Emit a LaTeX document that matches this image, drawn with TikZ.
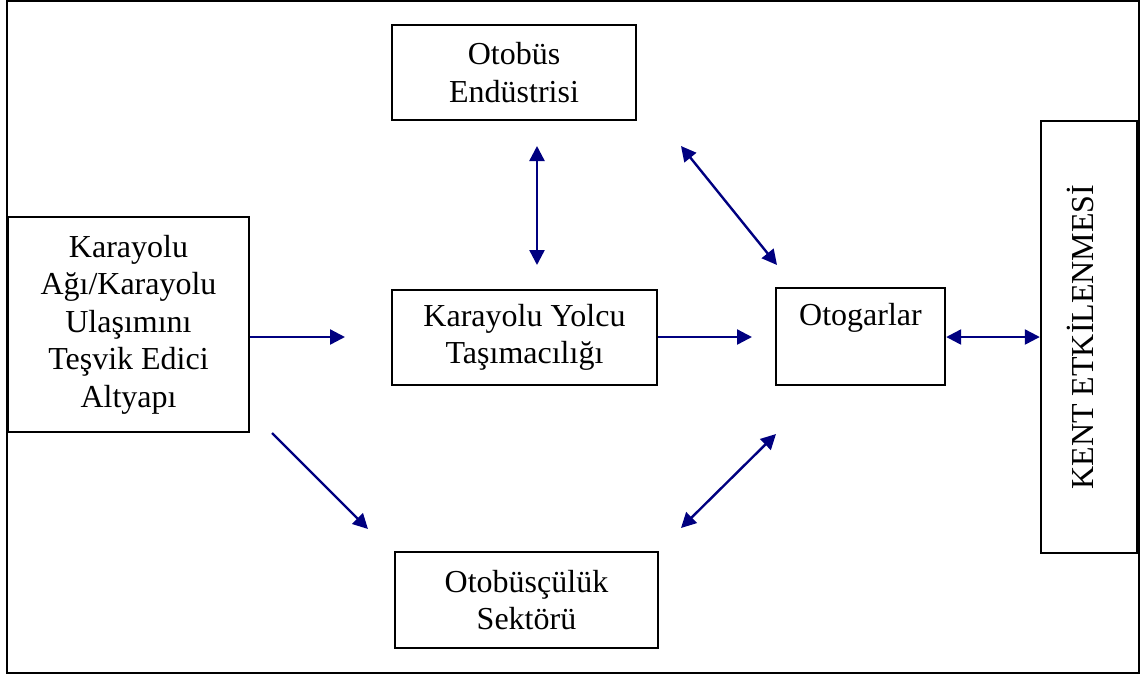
\documentclass[tikz,border=0pt]{standalone}
\usepackage{fontspec}
\setmainfont{Liberation Serif}
\usetikzlibrary{arrows.meta}
\definecolor{arrowblue}{RGB}{0,0,128}
\tikzset{
  box/.style={draw=black, line width=1.2pt, rectangle, inner sep=0pt, align=center,
    font=\fontsize{16}{18.75}\selectfont},
  conn/.style={draw=arrowblue, line width=1.2pt, -{Triangle[length=7.5pt,width=7.5pt]}},
  biconn/.style={draw=arrowblue, line width=1.2pt, {Triangle[length=7.5pt,width=7.5pt]}-{Triangle[length=7.5pt,width=7.5pt]}}
}
\begin{document}
\begin{tikzpicture}[x=0.5pt,y=-0.5pt]
\useasboundingbox (0,0) rectangle (1147,677);
\draw[line width=1.2pt] (7,1) rectangle (1139,673);

\node[box, minimum width=122pt, minimum height=47.5pt] (otob) at (514,72.5) {\raisebox{-2pt}{Otobüs}\\\raisebox{-2pt}{Endüstrisi}};
\node[box, minimum width=120.5pt, minimum height=107.5pt] (kara) at (128.5,324.5) {Karayolu\\Ağı/Karayolu\\Ulaşımını\\Teşvik Edici\\Altyapı};
\node[box, minimum width=132.5pt, minimum height=47.5pt] (yolcu) at (524.5,337.5) {Karayolu Yolcu\\Taşımacılığı};
\node[box, minimum width=84.5pt, minimum height=48.5pt] (otog) at (860.5,336.5) {\raisebox{-2pt}{Otogarlar}\\\strut};
\node[box, minimum width=131.5pt, minimum height=48pt] (sektor) at (526.5,600) {Otobüsçülük\\Sektörü};
\node[box, minimum width=48pt, minimum height=216pt] (kent) at (1089,337) {};
\node[font=\fontsize{16}{18.75}\selectfont, rotate=90, inner sep=0pt] (kenttext) at (1080,337) {KENT ETKİLENMESİ};

\coordinate (a1e) at (345,337);
\coordinate (a2e) at (752,337);
\coordinate (v1) at (537,146);
\coordinate (v2) at (537,265);
\coordinate (d1a) at (681,146);
\coordinate (d1b) at (777,265);
\coordinate (d2a) at (776,434);
\coordinate (d2b) at (681,528);
\coordinate (d3a) at (272,433);
\coordinate (d3b) at (368,529);

\draw[conn] (kara.east |- a1e) -- (a1e);
\draw[conn] (yolcu.east |- a2e) -- (a2e);
\draw[biconn] (otog.east |- a2e) -- (kent.west |- a2e);
\draw[biconn] (v1) -- (v2);
\draw[biconn] (d1a) -- (d1b);
\draw[biconn] (d2a) -- (d2b);
\draw[conn] (d3a) -- (d3b);
\end{tikzpicture}
\end{document}
